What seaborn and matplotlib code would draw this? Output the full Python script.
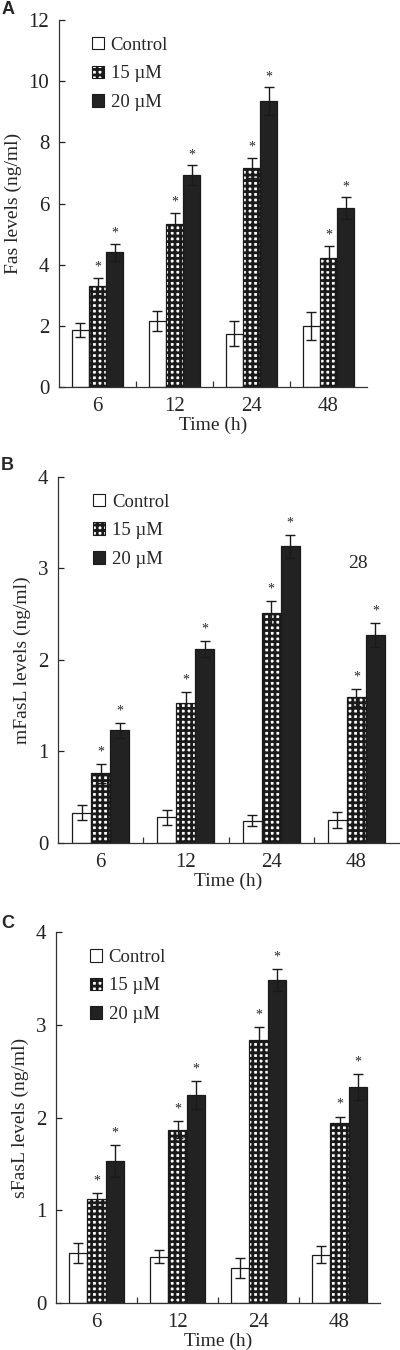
import matplotlib
matplotlib.use('Agg')
import matplotlib.pyplot as plt
import seaborn as sns
import pandas as pd
import numpy as np
from matplotlib.patches import Patch

sns.set_style('white')
plt.rcParams['font.family'] = ['Liberation Serif', 'DejaVu Serif']
plt.rcParams['hatch.linewidth'] = 2.0
plt.rcParams['hatch.color'] = '#1a1a1a'

times = ['6', '12', '24', '48']
groups = ['Control', '15 µM', '20 µM']

# panel A: Fas
fas_mean = {'Control': [1.88, 2.16, 1.75, 1.99],
            '15 µM': [3.29, 5.33, 7.15, 4.22],
            '20 µM': [4.40, 6.92, 9.35, 5.84]}
fas_err = {'Control': [0.23, 0.33, 0.42, 0.45],
           '15 µM': [0.27, 0.37, 0.33, 0.40],
           '20 µM': [0.27, 0.33, 0.45, 0.36]}

# panel B: mFasL
mfasl_mean = {'Control': [0.33, 0.28, 0.24, 0.25],
              '15 µM': [0.76, 1.53, 2.51, 1.59],
              '20 µM': [1.23, 2.12, 3.24, 2.27]}
mfasl_err = {'Control': [0.08, 0.08, 0.06, 0.09],
             '15 µM': [0.10, 0.12, 0.13, 0.09],
             '20 µM': [0.08, 0.09, 0.13, 0.13]}

# panel C: sFasL
sfasl_mean = {'Control': [0.54, 0.50, 0.38, 0.52],
              '15 µM': [1.12, 1.87, 2.84, 1.94],
              '20 µM': [1.53, 2.24, 3.48, 2.33]}
sfasl_err = {'Control': [0.11, 0.07, 0.11, 0.09],
             '15 µM': [0.07, 0.09, 0.14, 0.07],
             '20 µM': [0.17, 0.15, 0.12, 0.14]}

fills = {'Control': 'white', '15 µM': 'white', '20 µM': '#222222'}
hatches = {'Control': '', '15 µM': '+++', '20 µM': ''}


def to_long(means):
    rows = []
    for g in groups:
        for t, v in zip(times, means[g]):
            rows.append({'time': t, 'group': g, 'value': v})
    return pd.DataFrame(rows)


def panel(ax, means, errs, ylabel, ymax, star_off):
    df = to_long(means)
    sns.barplot(data=df, x='time', y='value', hue='group', order=times,
                hue_order=groups, palette=fills, errorbar=None, width=0.67,
                edgecolor='#1a1a1a', linewidth=0.9, legend=False, ax=ax)
    for g, cont in zip(groups, ax.containers):
        xs, tops = [], []
        for bar in cont:
            bar.set_hatch(hatches[g])
            xs.append(bar.get_x() + bar.get_width() / 2)
            tops.append(bar.get_height())
        ax.errorbar(xs, tops, yerr=errs[g], fmt='none', ecolor='#1a1a1a',
                    elinewidth=1.0, capsize=3.6, capthick=1.0, zorder=5)
        if g != 'Control':
            for x, t, e in zip(xs, tops, errs[g]):
                ax.text(x, t + e + star_off, '*', ha='center', va='center',
                        fontsize=10)
    ax.set_ylim(0, ymax)
    ax.set_xlim(-0.5, 3.5)
    ax.set_ylabel(ylabel, fontsize=14, labelpad=5)
    ax.set_xlabel('Time (h)', fontsize=14, labelpad=1)
    sns.despine(ax=ax)
    for s in ['left', 'bottom']:
        ax.spines[s].set_color('#333333')
        ax.spines[s].set_linewidth(0.9)
    ax.tick_params(axis='y', direction='in', length=4, width=0.9,
                   labelsize=15, pad=7, left=True, colors='#222222')
    ax.tick_params(axis='x', which='major', length=0, labelsize=15, pad=7)
    ax.set_xticks([0.5, 1.5, 2.5], minor=True)
    ax.tick_params(axis='x', which='minor', direction='in', length=4,
                   width=0.9, bottom=True, color='#333333')
    handles = [Patch(facecolor=fills[g], edgecolor='#1a1a1a', hatch=hatches[g],
                     linewidth=0.8) for g in groups]
    ax.legend(handles, groups, loc='upper left', bbox_to_anchor=(0.07, 0.985),
              frameon=False, fontsize=13.5, handlelength=0.65,
              handleheight=0.65, handletextpad=0.35, labelspacing=0.62,
              borderaxespad=0.2)


fig = plt.figure(figsize=(4, 13.5), dpi=100)
axA = fig.add_axes([0.1475, 0.7133, 0.77, 0.2719])
axB = fig.add_axes([0.145, 0.3756, 0.8525, 0.2711])
axC = fig.add_axes([0.14, 0.0348, 0.81, 0.2748])

panel(axA, fas_mean, fas_err, 'Fas levels (ng/ml)', 12, 0.35)
axA.set_yticks([0, 2, 4, 6, 8, 10, 12])
panel(axB, mfasl_mean, mfasl_err, 'mFasL levels (ng/ml)', 4, 0.13)
axB.set_yticks([0, 1, 2, 3, 4])
panel(axC, sfasl_mean, sfasl_err, 'sFasL levels (ng/ml)', 4, 0.13)
axC.set_yticks([0, 1, 2, 3, 4])

fig.text(0.895, 1 - 564 / 1350, '28', ha='center', va='center', fontsize=14)

for lab, y in [('A', 1 - 9 / 1350), ('B', 1 - 465 / 1350), ('C', 1 - 923 / 1350)]:
    fig.text(0.003, y, lab, ha='left', va='center', fontsize=13,
             fontweight='bold', family=['Liberation Sans', 'DejaVu Sans'])

fig.savefig('out.png', dpi=100)
